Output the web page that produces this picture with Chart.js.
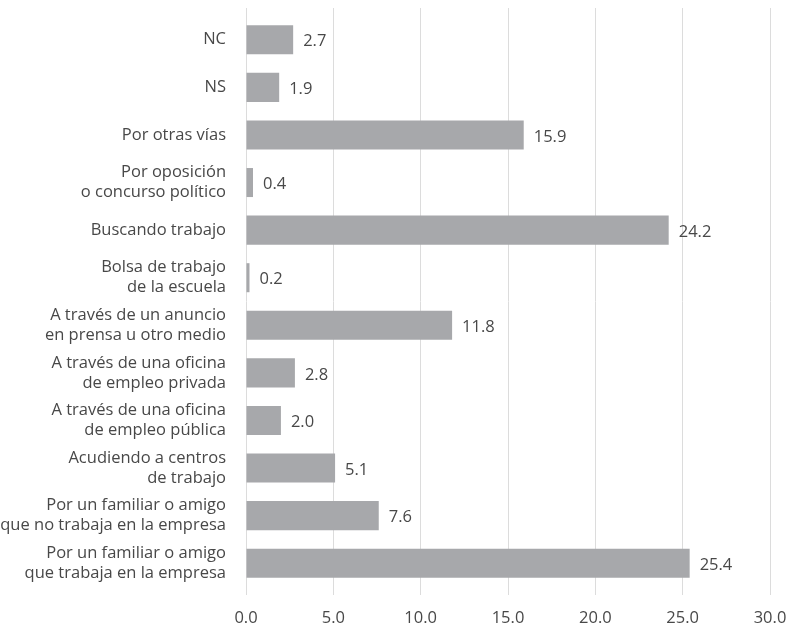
<!DOCTYPE html>
<html>
<head>
<meta charset="utf-8">
<script src="https://cdn.jsdelivr.net/npm/chart.js@4"></script>
<style>
  body { margin: 0; background: #fff; }
  #wrap { width: 790px; height: 629px; }
</style>
</head>
<body>
<div id="wrap"><canvas id="viasChart"></canvas></div>
<script>
const categories = [
    ["NC"],
    ["NS"],
    ["Por otras vías"],
    ["Por oposición", "o concurso político"],
    ["Buscando trabajo"],
    ["Bolsa de trabajo", "de la escuela"],
    ["A través de un anuncio", "en prensa u otro medio"],
    ["A través de una oficina", "de empleo privada"],
    ["A través de una oficina", "de empleo pública"],
    ["Acudiendo a centros", "de trabajo"],
    ["Por un familiar o amigo", "que no trabaja en la empresa"],
    ["Por un familiar o amigo", "que trabaja en la empresa"]
];
const percentages = [2.7, 1.9, 15.9, 0.4, 24.2, 0.2, 11.8, 2.8, 2.0, 5.1, 7.6, 25.4];
const axisMin = 0;
const axisMax = 30;
const axisStep = 5;

const labelFont = { family: "'Open Sans', 'Noto Sans', sans-serif", size: 16.5 };
const textColor = '#484848';
const gridColor = '#dcdcdc';

// value printed to the right of each bar
const barValues = {
    id: 'barValues',
    afterDatasetsDraw(chart) {
        const ctx = chart.ctx;
        const meta = chart.getDatasetMeta(0);
        ctx.save();
        ctx.font = `${labelFont.size}px ${labelFont.family}`;
        ctx.fillStyle = textColor;
        ctx.textAlign = 'left';
        ctx.textBaseline = 'middle';
        meta.data.forEach((bar, i) => {
            ctx.fillText(percentages[i].toFixed(1), bar.x + 10, bar.y + 2);
        });
        ctx.restore();
    }
};

// keep the axes from pushing the plot area in for label overhang
function noOverhang(scale) {
    scale.paddingTop = 0;
    scale.paddingBottom = 0;
    scale.paddingLeft = 0;
    scale.paddingRight = 0;
}

const ctx = document.getElementById('viasChart').getContext('2d');
new Chart(ctx, {
    type: 'bar',
    data: {
        labels: categories,
        datasets: [{
            data: percentages,
            backgroundColor: '#a7a8ab',
            borderWidth: 0,
            barPercentage: 0.61,
            categoryPercentage: 1
        }]
    },
    plugins: [barValues],
    options: {
        indexAxis: 'y',
        responsive: true,
        maintainAspectRatio: false,
        animation: false,
        layout: { padding: { top: 8, right: 20, bottom: 0, left: 0 } },
        plugins: {
            legend: { display: false },
            tooltip: { enabled: false }
        },
        scales: {
            x: {
                position: 'bottom',
                min: axisMin,
                max: axisMax,
                border: { display: false },
                grid: { color: gridColor, lineWidth: 1, tickLength: 8 },
                afterFit: scale => { scale.height = 42; noOverhang(scale); },
                ticks: {
                    stepSize: axisStep,
                    padding: 13,
                    color: textColor,
                    font: labelFont,
                    callback: v => v.toFixed(1)
                }
            },
            // only carries the grid lines a little above the bars
            xTop: {
                axis: 'x',
                position: 'top',
                min: axisMin,
                max: axisMax,
                border: { display: false },
                grid: { color: gridColor, drawOnChartArea: false, drawTicks: true, tickLength: 8 },
                afterFit: scale => { scale.height = 8; noOverhang(scale); },
                ticks: { stepSize: axisStep, display: false }
            },
            y: {
                border: { display: false },
                grid: { display: false },
                afterFit: scale => { scale.width = 246; noOverhang(scale); },
                ticks: {
                    padding: 12,
                    color: textColor,
                    font: { ...labelFont, lineHeight: 1.22 }
                }
            }
        }
    }
});
</script>
</body>
</html>
